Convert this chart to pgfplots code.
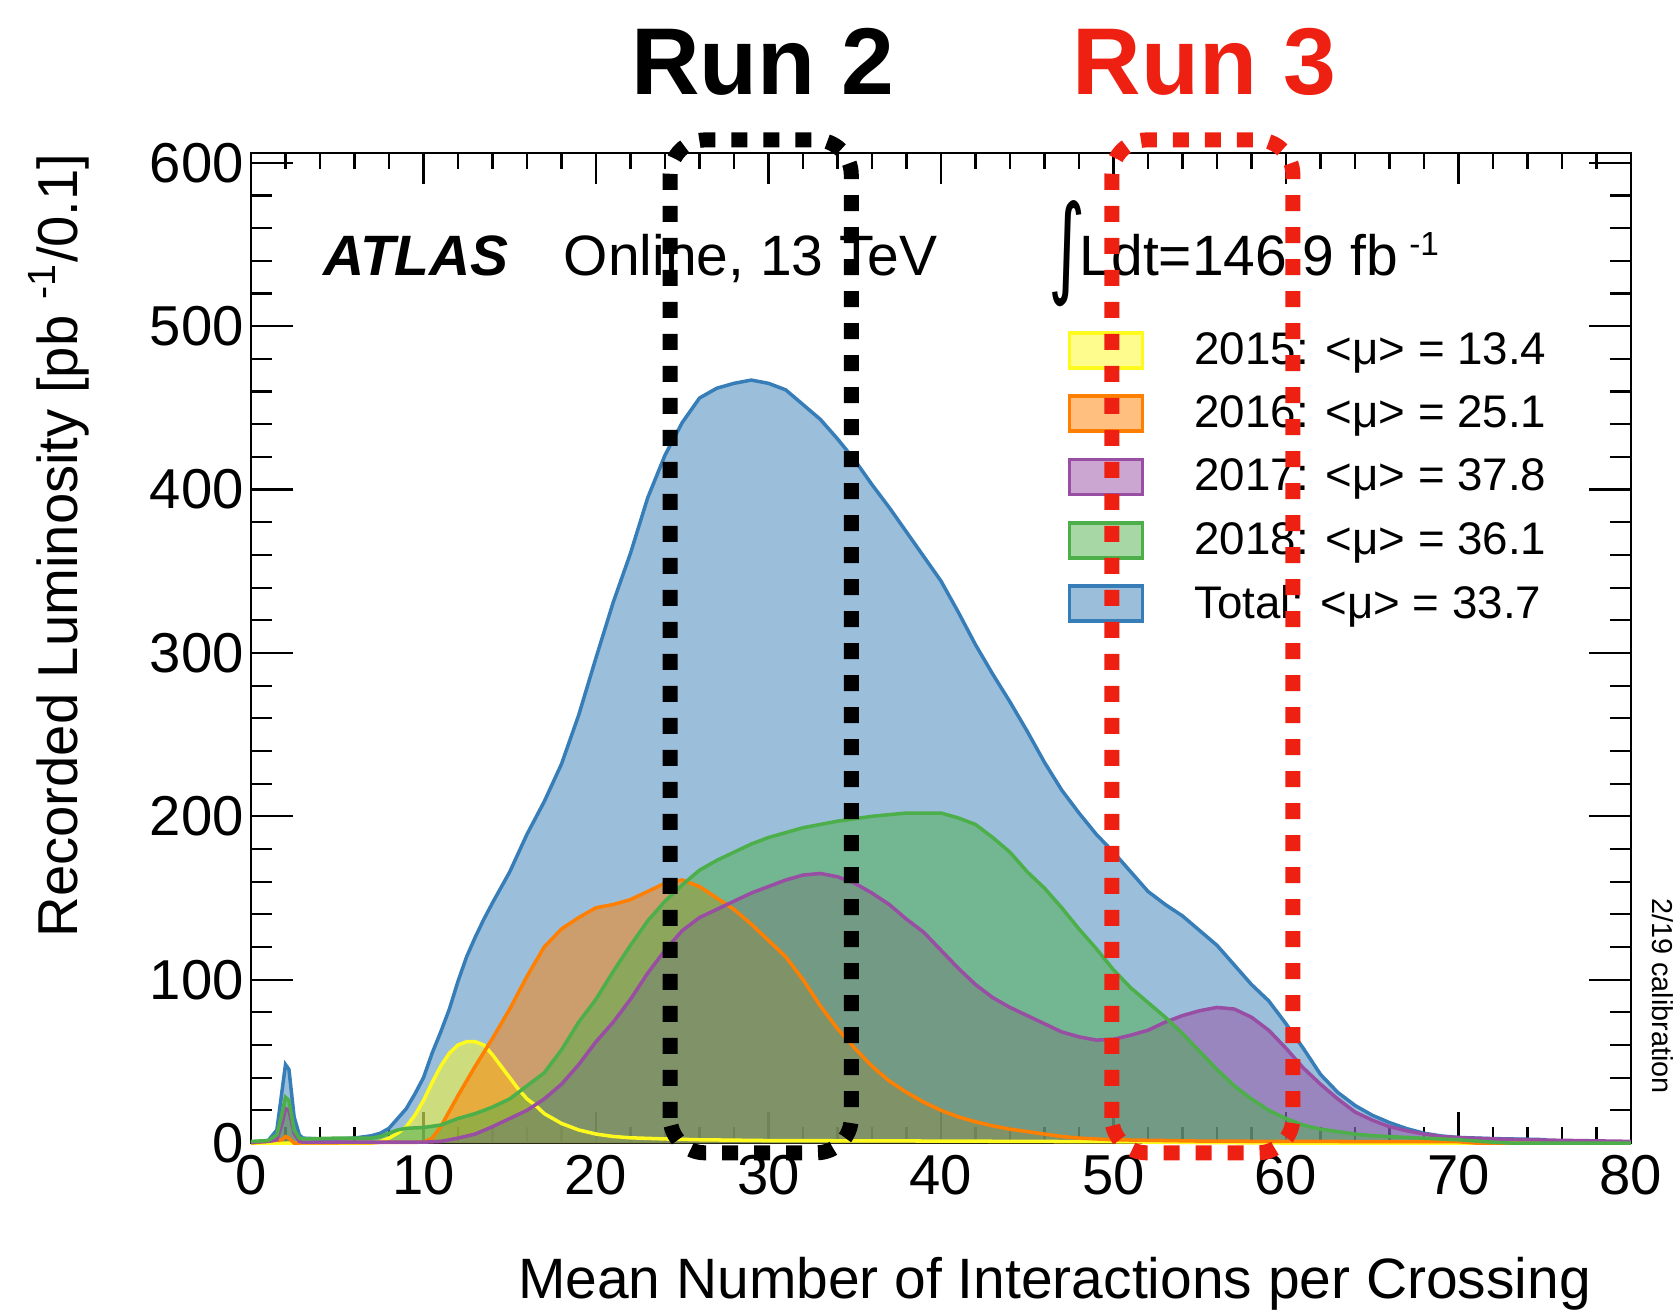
\documentclass[border=0pt]{standalone}
\usepackage{pgfplots}
\pgfplotsset{compat=1.18}
\usepackage{pgfplotstable}
\usepackage{fontspec}
\setmainfont{Liberation Sans}
\newfontfamily\dejavu{DejaVu Sans}

\definecolor{cYel}{RGB}{255,250,30}
\definecolor{cOra}{RGB}{255,127,0}
\definecolor{cPur}{RGB}{152,78,163}
\definecolor{cGre}{RGB}{77,175,74}
\definecolor{cBlu}{RGB}{55,126,184}
\definecolor{cRed}{RGB}{238,32,18}

\pgfplotstableread{
x y
0 0.5
1 1.5
1.5 8
1.8 32
2.0 48
2.2 45
2.5 16
2.8 5
3 3
4 2.5
5 2.5
6 3
7 4.5
7.5 6
8 9
8.5 15
9 21
9.5 30
10 40
10.5 55
11 68
11.5 82
12 99
12.5 114
13 126
13.5 137
14 147
15 166
16 189
17 209
18 232
19 262
20 297
21 331
22 361
23 395
24 421
25 441
26 456
27 462
28 465
29 467
30 465
31 461
32 452
33 443
34 431
35 418
36 403
37 389
38 374
39 359
40 344
41 325
42 305
43 287
44 270
45 252
46 233
47 216
48 202
49 189
50 178
51 166
52 154
53 146
54 139
55 130
56 121
57 109
58 97
59 87
60 73
61 58
62 42
63 31
64 23
65 17
66 12.5
67 8.8
68 6
69 4.3
70 3.4
72 2.7
75 2.1
75.5 0.5
76 0
80 0
}\tTotal

\pgfplotstableread{
x y
0 0
7 0
7.5 1
8 3
8.5 6
9 10
9.5 17
10 26
10.5 37
11 47
11.5 55
12 60
12.5 62
13 62
13.5 60
14 54
14.5 47
15 40
15.5 33
16 27
16.5 23
17 18
18 12
19 8
20 5.5
21 4
22 3.2
24 2.5
26 2
30 1.5
40 1.2
50 0.8
55 0.3
60 0
80 0
}\tY

\pgfplotstableread{
x y
0 0
1.8 2
2.0 4
2.2 3
2.5 0
10 0.5
10.5 3
11 10
12 29
13 47
14 64
15 82
16 102
17 120
18 131
19 138
20 144
21 146
22 149
23 154
24 159
25 161
26 157
27 150
28 143
29 134
30 124
31 114
32 100
33 84
34 70
35 58
36 47
37 38
38 31
39 25
40 20
41 16
42 13
43 10.5
44 8.5
45 7
46 5.5
47 4
48 3
50 2
55 1.2
60 1
70 0.8
71 0
80 0
}\tO

\pgfplotstableread{
x y
0 0.5
1 1
1.5 2
1.8 12
2.0 21
2.2 20
2.5 6
2.8 1
3 0.5
10 0.5
11 1
12 3
13 5.5
14 10
15 15
16 20
17 27
18 36
19 48
20 62
21 74
22 88
23 104
24 118
25 130
26 138
27 143
28 148
29 153
30 157
31 161
32 164
33 165
34 163
35 159
36 153
37 146
38 137
39 129
40 118
41 107
42 97
43 89
44 83
45 78
46 73
47 68
48 65
49 63
50 63.5
51 66
52 69
53 74
54 78
55 81
56 83
57 82
58 77
59 69
60 58
61 46
62 36
63 27
64 19
65 14
66 10
67 7.5
68 5.5
69 4
70 3.3
72 2.5
75 1.8
80 1
}\tP

\pgfplotstableread{
x y
0 1
1 1.5
1.5 5
1.8 18
2.0 28
2.2 26
2.5 8
2.8 3
3 2.5
5 3
7 3
7.5 4
8 6
8.5 8
9 9
10 9.5
11 11
12 15
13 18
14 22
15 27
16 35
17 43
18 57
19 74
20 88
21 105
22 121
23 136
24 148
25 158
26 167
27 173
28 178
29 183
30 187
31 190
32 193
33 195
34 197
35 198.5
36 200
37 201
38 202
39 202
40 202
41 199
42 195
43 187
44 178
45 166
46 156
47 144
48 131
49 119
50 106
51 95
52 86
53 77
54 67
55 56
56 45
57 35
58 27
59 20
60 15
61 11
62 8.5
63 7
64 5.5
65 4.5
67 3.4
70 2
72 0.5
73 0
80 0
}\tG

\begin{document}
\begin{tikzpicture}
\begin{axis}[
  at={(0,0)}, anchor=south west,
  scale only axis, width=13.8cm, height=9.9cm,
  xmin=0, xmax=80, ymin=0, ymax=606,
  clip=false,
  axis line style={line width=0.6pt},
  tick style={line width=0.6pt, black},
  tick align=inside,
  xtick={0,10,...,80}, minor x tick num=4,
  ytick={0,100,...,600}, minor y tick num=4,
  xtick style={/pgfplots/major tick length=0.31cm, /pgfplots/minor tick length=0.16cm},
  ytick style={/pgfplots/major tick length=0.42cm, /pgfplots/minor tick length=0.21cm},
  ticklabel style={font=\fontsize{16}{19}\selectfont},
  yticklabel style={xshift=0.05cm},
  /pgf/number format/assume math mode=true,
  xlabel={Mean Number of Interactions per Crossing},
  xlabel style={at={(axis description cs:0.980,-0.1566)}, anchor=base east, font=\fontsize{16.2}{19}\selectfont},
  ylabel={Recorded Luminosity [pb \textsuperscript{-1}/0.1]},
  ylabel style={at={(axis description cs:-0.1254,1.012)}, anchor=base east, font=\fontsize{16}{19}\selectfont},
  legend style={at={(0.592,0.8201)}, anchor=north west, draw=none, fill=none,
    inner sep=0pt, outer sep=0pt, row sep=0.248cm, column sep=0.5cm,
    font=\fontsize{13}{15}\selectfont, nodes={inner sep=0pt}},
  legend cell align=left,
  legend image code/.code={\draw[#1] (0cm,-0.17cm) rectangle (0.73cm,0.18cm);},
]
% fills
\addplot[draw=none, fill=cBlu, fill opacity=0.5, forget plot] table {\tTotal} \closedcycle;
\addplot[draw=none, fill=cYel, fill opacity=0.5, forget plot] table {\tY} \closedcycle;
\addplot[draw=none, fill=cOra, fill opacity=0.5, forget plot] table {\tO} \closedcycle;
\addplot[draw=none, fill=cPur, fill opacity=0.5, forget plot] table {\tP} \closedcycle;
\addplot[draw=none, fill=cGre, fill opacity=0.5, forget plot] table {\tG} \closedcycle;
% outlines
\addplot[cBlu, line width=1pt, forget plot] table {\tTotal};
\addplot[cYel, line width=1pt, forget plot] table {\tY};
\addplot[cOra, line width=1pt, forget plot] table {\tO};
\addplot[cPur, line width=1pt, forget plot] table {\tP};
\addplot[cGre, line width=1pt, forget plot] table {\tG};
% legend
\addlegendimage{draw=cYel, fill=cYel, fill opacity=0.5, line width=1pt}
\addlegendentry{2015: <μ> = 13.4}
\addlegendimage{draw=cOra, fill=cOra, fill opacity=0.5, line width=1pt}
\addlegendentry{2016: <μ> = 25.1}
\addlegendimage{draw=cPur, fill=cPur, fill opacity=0.5, line width=1pt}
\addlegendentry{2017: <μ> = 37.8}
\addlegendimage{draw=cGre, fill=cGre, fill opacity=0.5, line width=1pt}
\addlegendentry{2018: <μ> = 36.1}
\addlegendimage{draw=cBlu, fill=cBlu, fill opacity=0.5, line width=1pt}
\addlegendentry{Total: <μ> = 33.7}

\node[anchor=base west, inner sep=0pt, font=\fontsize{16.2}{19}\selectfont\bfseries\itshape] at (axis cs:4.15,531) {ATLAS};
\node[anchor=base west, inner sep=0pt, font=\fontsize{16.2}{19}\selectfont] at (axis cs:18.1,531) {Online, 13 TeV};
\node[anchor=base west, inner sep=0pt, font=\dejavu\fontsize{24}{28}\selectfont] at (axis cs:46.2,526) {\scalebox{0.85}[1.3]{∫}};
\node[anchor=base west, inner sep=0pt, font=\fontsize{16.2}{19}\selectfont] at (axis cs:48.0,531) {Ldt=146.9 fb\hspace{0.2em}\raisebox{0.2cm}{\fontsize{9.5}{11}\selectfont -1}};
\node[anchor=base west, inner sep=0pt, font=\fontsize{27}{31}\selectfont\bfseries] at (axis cs:22.0,642) {Run 2};
\node[anchor=base west, inner sep=0pt, font=\fontsize{27}{31}\selectfont\bfseries, text=cRed] at (axis cs:47.6,642) {Run 3};
\node[anchor=base, rotate=-90, inner sep=0pt, font=\fontsize{8.2}{10}\selectfont] at (axis cs:81.25,90) {2/19 calibration};

\coordinate (bA) at (axis cs:24.3,-6);
\coordinate (bB) at (axis cs:34.8,614);
\coordinate (rA) at (axis cs:49.9,-6);
\coordinate (rB) at (axis cs:60.4,614);
\end{axis}
\draw[black, line width=0.15cm, dash pattern=on 0.16cm off 0.16cm, rounded corners=0.35cm] (bA) rectangle (bB);
\draw[cRed, line width=0.15cm, dash pattern=on 0.16cm off 0.16cm, rounded corners=0.35cm] (rA) rectangle (rB);
\pgfresetboundingbox
\path[use as bounding box] (-2.51,-1.69) rectangle (14.24,11.43);
\end{tikzpicture}
\end{document}
